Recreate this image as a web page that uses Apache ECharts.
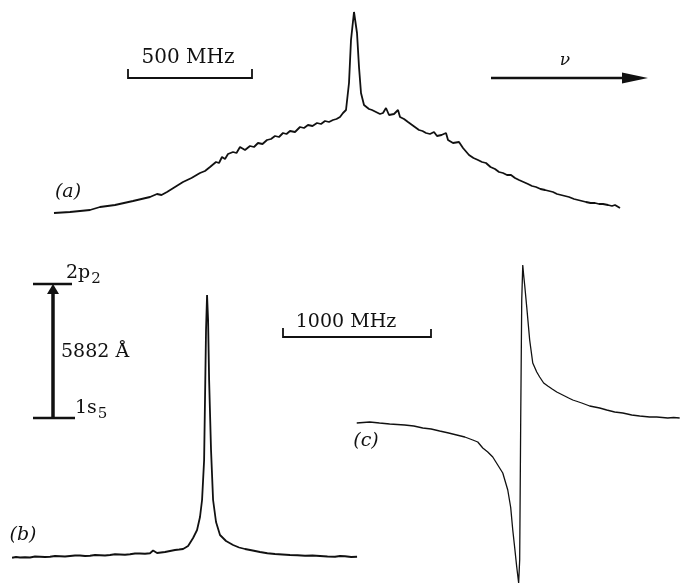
<!DOCTYPE html>
<html>
<head>
  <meta charset="UTF-8">
  <script src="https://cdn.jsdelivr.net/npm/echarts@6/dist/echarts.min.js"></script>
  <style>
    html, body { margin: 0; padding: 0; background: #fff; }
    #main { width: 686px; height: 586px; }
  </style>
</head>
<body>
  <div id="main"></div>
  <script>
    // (a) Doppler-broadened profile with narrow saturated peak: [MHz from line centre, signal]
    var traceA = [
      [-1200, 3.5], [-1136, 4], [-1056, 5], [-1016, 6.5], [-956, 7.5], [-884, 9.5],
      [-816, 11.5], [-788, 13], [-770, 12.5], [-748, 14], [-716, 16.5], [-684, 19],
      [-650, 21], [-616, 23.5], [-596, 24.5], [-576, 26.5], [-552, 29], [-540, 28.5],
      [-528, 31.5], [-516, 30.5], [-504, 33], [-484, 34], [-470, 33.5], [-456, 36.5],
      [-436, 35], [-416, 37], [-400, 36.5], [-384, 38.5], [-366, 38], [-348, 40],
      [-332, 40.5], [-316, 42], [-300, 41.5], [-284, 43.5], [-270, 43], [-256, 44.5],
      [-236, 44], [-216, 46.5], [-200, 46], [-184, 47.5], [-166, 47], [-148, 48.5],
      [-132, 48], [-116, 49.5], [-100, 49], [-84, 50], [-70, 50.5], [-56, 51.5],
      [-44, 53.5], [-32, 55], [-20, 68.5], [-12, 90], [0, 104], [12, 93.5], [20, 76.5],
      [28, 63.5], [40, 57.5], [48, 56.5], [60, 55.5], [72, 55], [88, 54], [104, 53],
      [116, 53.5], [128, 56], [140, 52.5], [160, 53], [176, 55], [184, 51.5], [200, 50.5],
      [216, 49], [238, 47], [260, 45], [274, 44.5], [288, 43.5], [304, 43], [320, 44],
      [332, 42], [350, 42.5], [368, 43.5], [376, 40], [396, 38.5], [420, 39], [436, 36],
      [460, 32.5], [478, 31], [496, 30], [512, 29], [528, 28.5], [546, 26.5], [564, 25.5],
      [580, 24], [596, 23.5], [612, 22.5], [628, 22.5], [644, 21], [660, 20], [678, 19],
      [696, 18], [712, 17], [728, 16.5], [746, 15.5], [764, 15], [780, 14.5], [796, 14],
      [812, 13], [828, 12.5], [844, 12], [860, 11.5], [880, 10.5], [896, 10], [912, 9.5],
      [928, 9], [946, 8.5], [964, 8.5], [980, 8], [996, 8], [1016, 7.5], [1032, 7],
      [1044, 7.5], [1052, 8], [1064, 6]
    ];

    // (b) Doppler-free saturated absorption peak
    var traceB = [
      [-1326, 0.9], [-1299, 1.2], [-1272, 1.0], [-1238, 1.1], [-1204, 1.0], [-1170, 1.4],
      [-1136, 1.3], [-1102, 1.2], [-1068, 1.3], [-1034, 1.6], [-1000, 1.5], [-966, 1.4],
      [-932, 1.6], [-898, 1.8], [-864, 1.8], [-830, 1.6], [-796, 1.7], [-762, 2.0],
      [-728, 1.9], [-694, 1.8], [-660, 2.0], [-626, 2.3], [-592, 2.2], [-558, 2.1],
      [-524, 2.3], [-490, 2.6], [-456, 2.6], [-422, 2.5], [-388, 2.7], [-367, 3.8],
      [-340, 2.8], [-313, 3.0], [-286, 3.2], [-252, 3.6], [-218, 4.0], [-190, 4.2],
      [-163, 4.4], [-129, 5.6], [-95, 8.8], [-68, 12], [-48, 17.2], [-34, 24], [-20, 40],
      [-14, 64], [-7, 92], [0, 106], [7, 96], [14, 72], [27, 44], [41, 24], [61, 15.2],
      [88, 10], [129, 7.6], [177, 6], [218, 5.0], [258, 4.4], [310, 3.8], [360, 3.2],
      [410, 2.7], [462, 2.4], [512, 2.2], [564, 2.0], [615, 1.9], [666, 1.7], [717, 1.8],
      [768, 1.6], [819, 1.4], [870, 1.3], [904, 1.6], [938, 1.5], [980, 1.2], [1020, 1.3]
    ];

    // (c) dispersion-shaped signal
    var traceC = [
      [-1115, -1.2], [-1027, -0.8], [-960, -1.2], [-891, -1.6], [-789, -2], [-727, -2.4],
      [-666, -3.2], [-609, -3.6], [-551, -4.4], [-490, -5.2], [-435, -6], [-380, -6.8],
      [-326, -8], [-292, -8.8], [-258, -11.2], [-224, -12.8], [-190, -14.8], [-156, -18],
      [-122, -21.2], [-88, -28], [-68, -35], [-54, -44], [-41, -51], [-27, -58.8],
      [-14, -65.2], [-7, -56], [0, 0], [7, 48], [14, 62], [20, 58], [27, 54], [41, 45.2],
      [61, 32], [82, 22.8], [109, 19.2], [129, 17.2], [156, 14.8], [184, 13.6], [214, 12.4],
      [245, 11.2], [272, 10.4], [299, 9.6], [326, 8.8], [354, 8], [385, 7.4], [415, 6.8],
      [442, 6.2], [469, 5.6], [503, 5.2], [537, 4.8], [561, 4.4], [585, 4], [612, 3.6],
      [639, 3.2], [667, 3.0], [694, 2.8], [725, 2.4], [755, 2], [782, 1.8], [809, 1.6],
      [843, 1.4], [877, 1.2], [925, 1.2], [963, 1.0], [1000, 0.8], [1040, 1.0], [1081, 0.8]
    ];

    var ink = '#111';
    var serif = '"DejaVu Serif", "Liberation Serif", serif';

    var chart = echarts.init(document.getElementById('main'));

    function hiddenX(idx, min, max) {
      return { type: 'value', gridIndex: idx, min: min, max: max, show: false };
    }
    function hiddenY(idx, min, max) {
      return { type: 'value', gridIndex: idx, min: min, max: max, show: false };
    }

    chart.setOption({
      animation: false,
      backgroundColor: '#fff',
      grid: [
        { left: 44, top: 12, width: 585, height: 208 },
        { left: 10, top: 285, width: 350, height: 275 },
        { left: 356, top: 260, width: 325, height: 325 }
      ],
      xAxis: [hiddenX(0, -1240, 1100), hiddenX(1, -1340, 1040), hiddenX(2, -1120, 1090)],
      yAxis: [hiddenY(0, 0, 104), hiddenY(1, 0, 110), hiddenY(2, -66, 64)],
      series: [
        { name: 'a', type: 'line', xAxisIndex: 0, yAxisIndex: 0, data: traceA,
          showSymbol: false, lineStyle: { color: ink, width: 1.8 } },
        { name: 'b', type: 'line', xAxisIndex: 1, yAxisIndex: 1, data: traceB,
          showSymbol: false, lineStyle: { color: ink, width: 1.8 } },
        { name: 'c', type: 'line', xAxisIndex: 2, yAxisIndex: 2, data: traceC,
          showSymbol: false, lineStyle: { color: ink, width: 1.3 } }
      ],
      graphic: [
        // 500 MHz scale bar
        { type: 'polyline', shape: { points: [[128, 69], [128, 78], [252, 78], [252, 69]] },
          style: { stroke: ink, lineWidth: 1.8, fill: null } },
        { type: 'text', x: 188, y: 58,
          style: { text: '500 MHz', font: '20px ' + serif, fill: ink, align: 'center', verticalAlign: 'middle' } },
        // frequency arrow
        { type: 'line', shape: { x1: 491, y1: 78, x2: 626, y2: 78 }, style: { stroke: ink, lineWidth: 2.5 } },
        { type: 'polygon', shape: { points: [[622, 72.5], [648, 78], [622, 83.5]] }, style: { fill: ink } },
        { type: 'text', x: 565, y: 61,
          style: { text: 'ν', font: 'italic 17px ' + serif, fill: ink, align: 'center', verticalAlign: 'middle' } },
        { type: 'text', x: 68, y: 192,
          style: { text: '(a)', font: 'italic 19px ' + serif, fill: ink, align: 'center', verticalAlign: 'middle' } },
        // level diagram
        { type: 'line', shape: { x1: 33, y1: 284, x2: 72, y2: 284 }, style: { stroke: ink, lineWidth: 2.5 } },
        { type: 'line', shape: { x1: 33, y1: 418, x2: 75, y2: 418 }, style: { stroke: ink, lineWidth: 2.5 } },
        { type: 'line', shape: { x1: 53, y1: 418, x2: 53, y2: 292 }, style: { stroke: ink, lineWidth: 3.5 } },
        { type: 'polygon', shape: { points: [[47, 294], [53, 284], [59, 294]] }, style: { fill: ink } },
        { type: 'text', x: 66, y: 273,
          style: { text: '2p{s|2}', font: '19px ' + serif, fill: ink, verticalAlign: 'middle',
            rich: { s: { font: '15px ' + serif, fill: ink, padding: [12, 0, 0, 1] } } } },
        { type: 'text', x: 61, y: 352,
          style: { text: '5882 Å', font: '19px ' + serif, fill: ink, verticalAlign: 'middle' } },
        { type: 'text', x: 75, y: 408,
          style: { text: '1s{s|5}', font: '19px ' + serif, fill: ink, verticalAlign: 'middle',
            rich: { s: { font: '15px ' + serif, fill: ink, padding: [12, 0, 0, 1] } } } },
        // 1000 MHz scale bar
        { type: 'polyline', shape: { points: [[283, 328], [283, 337], [431, 337], [431, 329]] },
          style: { stroke: ink, lineWidth: 1.8, fill: null } },
        { type: 'text', x: 346, y: 322,
          style: { text: '1000 MHz', font: '19px ' + serif, fill: ink, align: 'center', verticalAlign: 'middle' } },
        { type: 'text', x: 23, y: 535,
          style: { text: '(b)', font: 'italic 19px ' + serif, fill: ink, align: 'center', verticalAlign: 'middle' } },
        { type: 'text', x: 366, y: 441,
          style: { text: '(c)', font: 'italic 19px ' + serif, fill: ink, align: 'center', verticalAlign: 'middle' } }
      ]
    });
  </script>
</body>
</html>
